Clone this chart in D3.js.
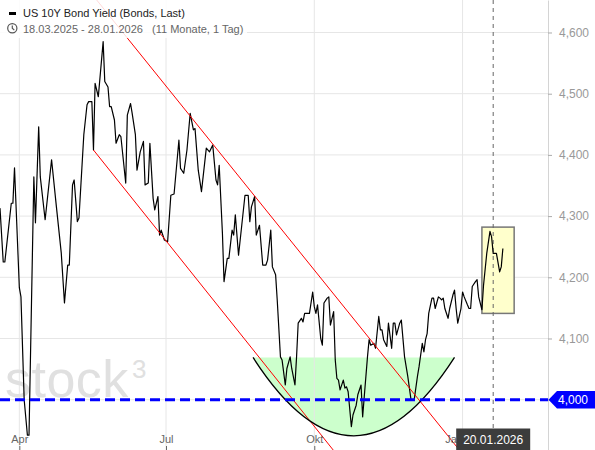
<!DOCTYPE html>
<html>
<head>
<meta charset="utf-8">
<script src="https://cdn.jsdelivr.net/npm/d3@7"></script>
<style>
    body { margin: 0; background: #fff; }
    svg { display: block; font-family: "Liberation Sans", Arial, sans-serif; }
</style>
</head>
<body>
<svg id="chart" width="595" height="450"></svg>
<script>
// closes of the US 10Y yield, day offsets counted from 18.03.2025
const dayOffsets = [
    2, 4, 5, 9, 10, 11, 14, 15, 17, 19, 20, 23, 24, 26, 27, 30, 34, 37, 40, 42,
    44, 45, 47, 48, 50, 51, 54, 56, 57, 59, 60, 61, 63, 66, 67, 69, 70, 71, 73, 74,
    76, 77, 80, 81, 83, 84, 86, 87, 89, 91, 92, 94, 95, 97, 98, 100, 101, 102, 104, 106,
    108, 110, 113, 114, 116, 118, 120, 122, 123, 125, 127, 130, 132, 134, 136, 137, 138, 140, 141, 143,
    144, 146, 147, 148, 150, 152, 154, 156, 157, 158, 160, 161, 163, 165, 167, 168, 170, 171, 173, 174,
    176, 177, 179, 180, 182, 183, 185, 186, 187, 189, 190, 191, 193, 194, 196, 197, 198, 199, 201, 202,
    203, 205, 206, 207, 209, 210, 211, 212, 213, 215, 216, 217, 218, 220, 221, 223, 224, 226, 227, 228,
    230, 231, 232, 234, 235, 237, 238, 239, 240, 242, 243, 245, 246, 247, 248, 250, 251, 253, 255, 257,
    259, 261, 262, 264, 265, 266, 267, 268, 270, 271, 272, 274, 275, 276, 277, 278, 280, 281, 283, 284,
    285, 286, 288, 289, 290, 292, 293, 294, 295, 297, 298, 299, 301, 302, 304, 306, 307, 308, 310, 312,
    313, 314
];
const yields = [
    4.313, 4.225, 4.225, 4.321, 4.321, 4.379, 4.183, 4.168, 4.000, 3.942, 3.942, 4.364, 4.289, 4.446, 4.364, 4.294, 4.392, 4.315, 4.240, 4.158,
    4.220, 4.220, 4.351, 4.359, 4.291, 4.297, 4.433, 4.482, 4.487, 4.487, 4.408, 4.517, 4.495, 4.585, 4.520, 4.511, 4.479, 4.479, 4.457, 4.419,
    4.433, 4.430, 4.354, 4.465, 4.484, 4.468, 4.433, 4.375, 4.405, 4.422, 4.351, 4.354, 4.419, 4.329, 4.310, 4.332, 4.269, 4.277, 4.261, 4.258,
    4.334, 4.336, 4.424, 4.378, 4.370, 4.408, 4.468, 4.441, 4.443, 4.375, 4.340, 4.411, 4.405, 4.416, 4.359, 4.351, 4.383, 4.272, 4.193, 4.231,
    4.231, 4.277, 4.269, 4.302, 4.236, 4.285, 4.334, 4.334, 4.291, 4.315, 4.332, 4.269, 4.285, 4.220, 4.220, 4.228, 4.277, 4.217, 4.204, 4.163,
    4.070, 4.065, 4.024, 4.051, 4.070, 4.051, 4.024, 4.070, 4.125, 4.133, 4.127, 4.141, 4.141, 4.141, 4.176, 4.152, 4.141, 4.155, 4.100, 4.089,
    4.158, 4.166, 4.168, 4.122, 4.144, 4.065, 4.035, 4.032, 4.016, 4.032, 4.019, 4.021, 4.013, 3.956, 3.975, 3.991, 4.008, 4.024, 3.972, 4.005,
    4.070, 4.098, 4.089, 4.092, 4.084, 4.136, 4.114, 4.114, 4.098, 4.087, 4.125, 4.084, 4.125, 4.125, 4.106, 4.125, 4.130, 4.070, 4.038, 4.000,
    4.000, 4.038, 4.054, 4.092, 4.078, 4.098, 4.108, 4.141, 4.166, 4.166, 4.149, 4.168, 4.166, 4.163, 4.166, 4.149, 4.133, 4.149, 4.171, 4.179,
    4.149, 4.125, 4.149, 4.176, 4.168, 4.155, 4.149, 4.149, 4.185, 4.193, 4.196, 4.168, 4.147, 4.187, 4.239, 4.275, 4.266, 4.239, 4.239, 4.209,
    4.217, 4.247
];

const yTicks = [4.0, 4.1, 4.2, 4.3, 4.4, 4.5, 4.6];
const monthTicks = ['2025-04-01', '2025-07-01', '2025-10-01', '2026-01-01'];
const monthLabels = ['Apr', 'Jul', 'Okt', 'Jan'];

// drawings on the chart: [day offset, yield]
const upperChannel = [[62, 4.653], [290, 3.908]];
const lowerChannel = [[60, 4.408], [212, 3.907]];
const cupRim = [[159, 4.069], [284, 4.069]];
const cupLow = [221.5, 3.941];
const boxDays = [301, 321];
const boxYields = [4.141, 4.282];
const markerDate = '2026-01-20';
const refLevel = 4.0;

(function () {
    'use strict';

    const W = 595, H = 450, plW = 548;
    const pa = d3.timeParse('%Y-%m-%d');
    const t0 = pa('2025-03-18');
    const dt = d => new Date(+t0 + d * 864e5);
    const de = d3.formatLocale({ decimal: ',', thousands: '.', grouping: [3], currency: ['', ' €'] });
    const fm = de.format('.3f');
    const dFm = d3.timeFormat('%d.%m.%Y');

    const series = dayOffsets.map((d, i) => ({ da: dt(d), va: yields[i] }));

    const x = d3.scaleTime().domain([dt(2), dt(342)]).range([0, plW]);
    const y = d3.scaleLinear().domain([3.9178, 4.6531]).range([H, 0]);

    const sv = d3.select('#chart');
    sv.append('defs').append('clipPath').attr('id', 'clip')
        .append('rect').attr('width', plW).attr('height', H);

    const pl = sv.append('g').attr('clip-path', 'url(#clip)');

    // cup (quadratic curve, vertex at cupLow)
    const rimY = y(cupRim[0][1]);
    const cup = d3.path();
    cup.moveTo(x(dt(cupRim[0][0])), rimY);
    cup.quadraticCurveTo(x(dt(cupLow[0])), 2 * y(cupLow[1]) - rimY, x(dt(cupRim[1][0])), y(cupRim[1][1]));

    pl.append('path')
        .attr('d', cup.toString() + 'Z')
        .attr('fill', '#ccffcc');

    // grid
    pl.selectAll('.hgrid').data(yTicks).enter().append('line')
        .attr('x1', 0).attr('x2', plW)
        .attr('y1', d => y(d)).attr('y2', d => y(d))
        .attr('stroke', '#e6e6e6');

    pl.selectAll('.vgrid').data(monthTicks).enter().append('line')
        .attr('x1', d => x(pa(d))).attr('x2', d => x(pa(d)))
        .attr('y1', 0).attr('y2', H)
        .attr('stroke', '#e6e6e6');

    // watermark
    const wm = pl.append('g').attr('fill', '#e0e0e0');
    wm.append('text').attr('x', 5).attr('y', 397)
        .style('font-size', '52px').style('letter-spacing', '0.5px')
        .text('stock');
    wm.append('text').attr('x', 132).attr('y', 378)
        .style('font-size', '26px')
        .text('3');

    // legend background
    sv.append('rect').attr('x', 0).attr('y', 0).attr('width', 247).attr('height', 38)
        .attr('fill', '#fff').attr('opacity', 0.85);

    // highlight box
    pl.append('rect')
        .attr('x', x(dt(boxDays[0])))
        .attr('y', y(boxYields[1]))
        .attr('width', x(dt(boxDays[1])) - x(dt(boxDays[0])))
        .attr('height', y(boxYields[0]) - y(boxYields[1]))
        .attr('fill', '#ffffcc')
        .attr('stroke', '#777')
        .attr('stroke-width', 1.5);

    // cursor line
    const mx = x(pa(markerDate));
    pl.append('line')
        .attr('x1', mx).attr('x2', mx).attr('y1', 0).attr('y2', H)
        .attr('stroke', '#666').attr('stroke-dasharray', '4,4');

    // price line
    const ln = d3.line().x(d => x(d.da)).y(d => y(d.va));
    pl.append('path')
        .datum(series)
        .attr('d', ln)
        .attr('fill', 'none')
        .attr('stroke', '#000')
        .attr('stroke-width', 1.2)
        .attr('stroke-linejoin', 'round');

    // trend channel
    const chLn = d3.line().x(d => x(dt(d[0]))).y(d => y(d[1]));
    [upperChannel, lowerChannel].forEach(ch => {
        pl.append('path').attr('d', chLn(ch))
            .attr('fill', 'none').attr('stroke', '#ff0000').attr('stroke-width', 1);
    });

    pl.append('path')
        .attr('d', cup.toString())
        .attr('fill', 'none')
        .attr('stroke', '#000')
        .attr('stroke-width', 1.3);

    // support level
    pl.append('line')
        .attr('x1', 0).attr('x2', plW)
        .attr('y1', y(refLevel)).attr('y2', y(refLevel))
        .attr('stroke', '#0000ff').attr('stroke-width', 3)
        .attr('stroke-dasharray', '10,5');

    // axes
    const yAx = sv.append('g')
        .attr('transform', `translate(${plW},0)`)
        .call(d3.axisRight(y).tickValues(yTicks).tickFormat(fm).tickSize(4).tickSizeOuter(0).tickPadding(7));
    yAx.attr('font-family', null).attr('font-size', null);
    yAx.select('.domain').attr('stroke', '#d4d4d4');
    yAx.selectAll('.tick line').attr('stroke', '#aaa');
    yAx.selectAll('.tick text').attr('fill', '#999').style('font-size', '12px');

    const xAx = sv.append('g')
        .attr('transform', `translate(0,${H})`)
        .call(d3.axisTop(x).tickValues(monthTicks.map(pa))
            .tickFormat((d, i) => monthLabels[i]).tickSize(4).tickPadding(3));
    xAx.attr('font-family', null).attr('font-size', null);
    xAx.select('.domain').remove();
    xAx.selectAll('.tick line').attr('stroke', '#666');
    xAx.selectAll('.tick text').attr('fill', '#666').style('font-size', '11px')
        // the last label gets pushed left by the cursor date tag
        .attr('text-anchor', (d, i) => i === monthTicks.length - 1 ? 'end' : 'middle');

    // level tag
    const ly = y(refLevel);
    sv.append('path')
        .attr('d', `M${plW + 0.5},${ly} L${plW + 9},${ly - 8.8} L${W},${ly - 8.8} L${W},${ly + 8.8} L${plW + 9},${ly + 8.8} Z`)
        .attr('fill', '#0000ff');
    sv.append('text')
        .attr('x', plW + 10).attr('y', ly + 4.3)
        .attr('fill', '#fff').style('font-size', '12px')
        .text(fm(refLevel));

    // cursor date tag
    sv.append('rect')
        .attr('x', mx - 37).attr('y', 428.5).attr('width', 74).attr('height', 22)
        .attr('fill', '#3c3c3c');
    sv.append('text')
        .attr('x', mx).attr('y', 444.3)
        .attr('text-anchor', 'middle')
        .attr('fill', '#fff').style('font-size', '12px')
        .text(dFm(pa(markerDate)));

    // legend
    sv.append('rect').attr('x', 9).attr('y', 12).attr('width', 7).attr('height', 3).attr('fill', '#000');
    sv.append('text').attr('x', 23).attr('y', 17)
        .attr('fill', '#222').style('font-size', '11px')
        .text('US 10Y Bond Yield (Bonds, Last)');

    const ck = sv.append('g').attr('transform', 'translate(12.3,28.3)')
        .attr('fill', 'none').attr('stroke', '#555').attr('stroke-width', 1.2);
    ck.append('circle').attr('r', 4.6);
    ck.append('path').attr('d', 'M0,-2.8 L0,0 L2,1.8');

    const sub = sv.append('text').attr('y', 32.5)
        .attr('fill', '#666').style('font-size', '11px');
    sub.append('tspan').attr('x', 23).text(dFm(t0) + ' - ' + dFm(dt(316)));
    sub.append('tspan').attr('x', 152).text('(11 Monate, 1 Tag)');
})();
</script>
</body>
</html>
